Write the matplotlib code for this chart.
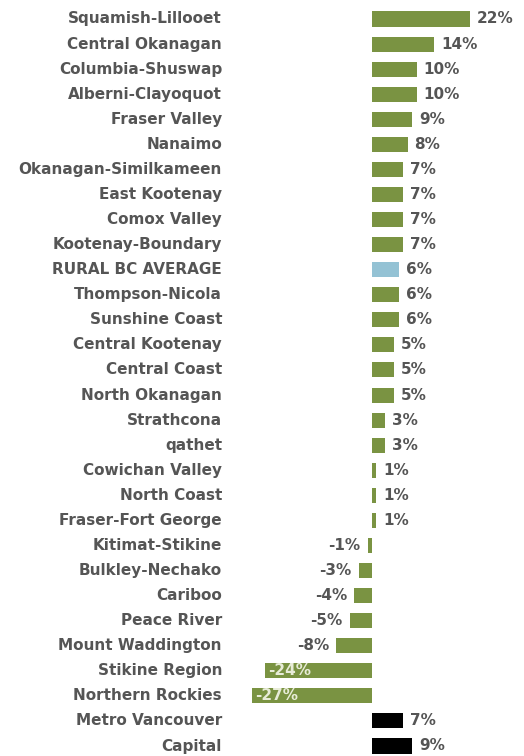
import matplotlib.pyplot as plt
from matplotlib.transforms import blended_transform_factory

regions = [
    "Squamish-Lillooet", "Central Okanagan", "Columbia-Shuswap", "Alberni-Clayoquot",
    "Fraser Valley", "Nanaimo", "Okanagan-Similkameen", "East Kootenay", "Comox Valley",
    "Kootenay-Boundary", "RURAL BC AVERAGE", "Thompson-Nicola", "Sunshine Coast",
    "Central Kootenay", "Central Coast", "North Okanagan", "Strathcona", "qathet",
    "Cowichan Valley", "North Coast", "Fraser-Fort George", "Kitimat-Stikine",
    "Bulkley-Nechako", "Cariboo", "Peace River", "Mount Waddington", "Stikine Region",
    "Northern Rockies", "Metro Vancouver", "Capital",
]
change = [22, 14, 10, 10, 9, 8, 7, 7, 7, 7, 6, 6, 6, 5, 5, 5, 3, 3, 1, 1, 1,
          -1, -3, -4, -5, -8, -24, -27, 7, 9]

GREEN = "#7a9342"
BLUE = "#94c2d4"
BLACK = "#000000"
TEXT = "#555555"

colors = []
for name in regions:
    if name == "RURAL BC AVERAGE":
        colors.append(BLUE)
    elif name in ("Metro Vancouver", "Capital"):
        colors.append(BLACK)
    else:
        colors.append(GREEN)

plt.rcParams['font.family'] = ['DejaVu Sans']

fig = plt.figure(figsize=(5.24, 7.56), dpi=100)
ax = fig.add_axes([0, 0, 1, 1])

px = 4.45  # pixels per percentage point
zero = 372
ax.set_xlim(-zero / px, (524 - zero) / px)
step = (746 - 19) / 29
ax.set_ylim((756 - 19) / step, -19 / step)
ax.axis('off')

y = list(range(len(regions)))
ax.barh(y, change, height=0.6, color=colors)

lab = blended_transform_factory(ax.transAxes, ax.transData)
for i, (name, v) in enumerate(zip(regions, change)):
    ax.text(222 / 524, i, name, transform=lab, ha='right', va='center',
            fontsize=11, fontweight='bold', color=TEXT)
    if v >= 0:
        ax.annotate(f"{v}%", (v, i), xytext=(5, 0), textcoords='offset points',
                    ha='left', va='center', fontsize=11, fontweight='bold', color=TEXT)
    elif v < -20:
        ax.annotate(f"{v}%", (v, i), xytext=(2, 0), textcoords='offset points',
                    ha='left', va='center', fontsize=11, fontweight='bold', color="#e8ecd8")
    else:
        ax.annotate(f"{v}%", (v, i), xytext=(-5, 0), textcoords='offset points',
                    ha='right', va='center', fontsize=11, fontweight='bold', color=TEXT)

fig.savefig("out.png", dpi=100)
